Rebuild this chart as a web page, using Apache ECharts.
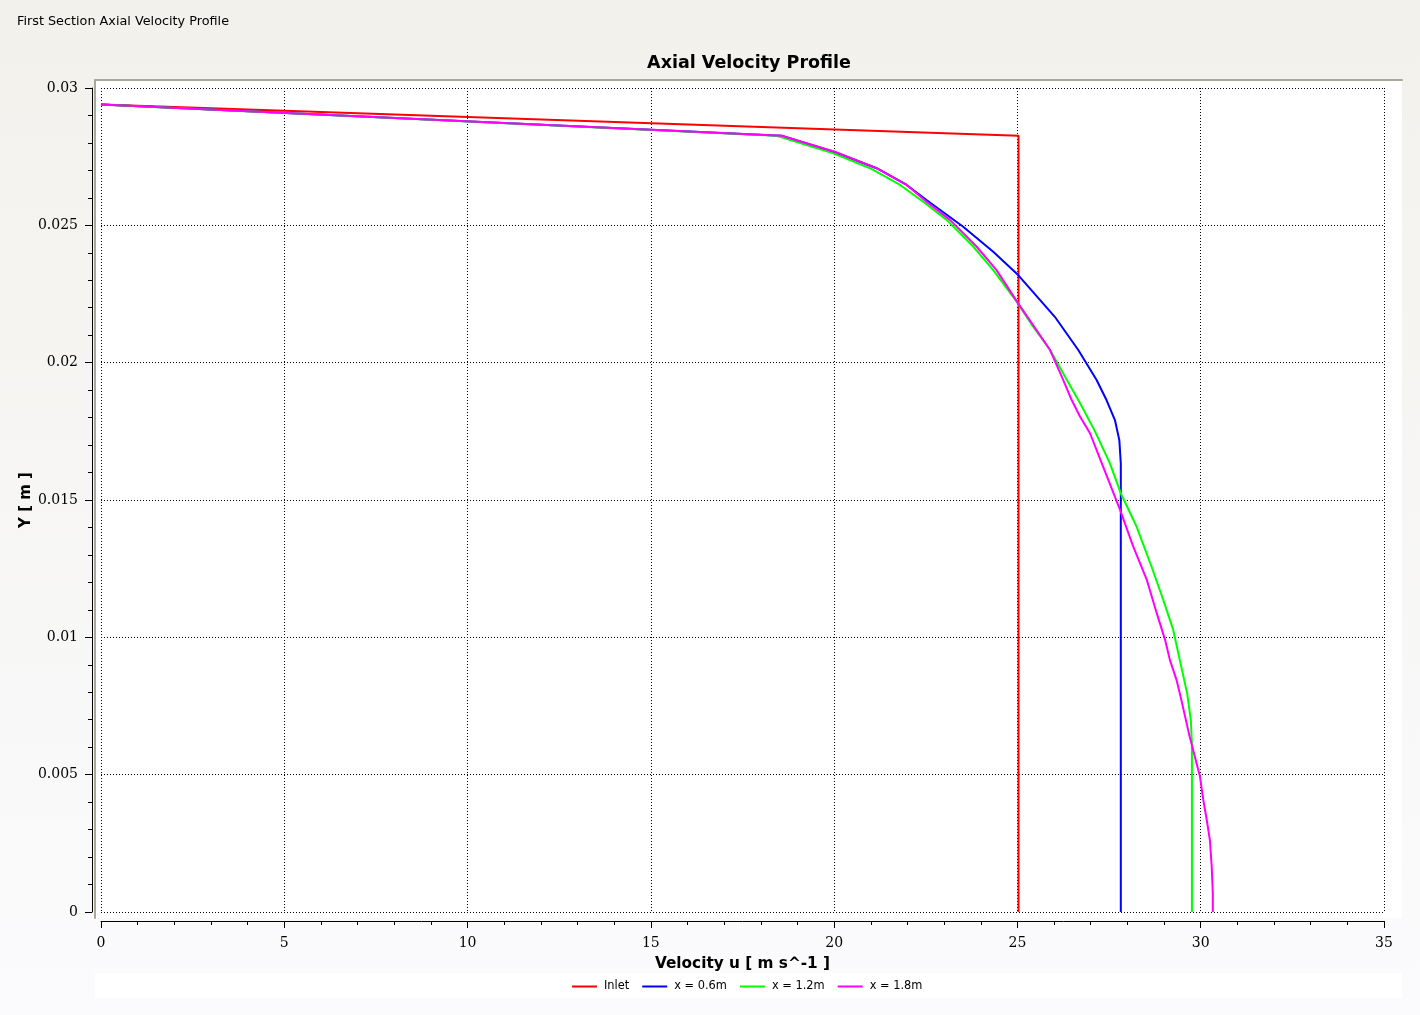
<!DOCTYPE html>
<html>
<head>
<meta charset="utf-8">
<script src="https://cdn.jsdelivr.net/npm/echarts@6/dist/echarts.min.js"></script>
<style>html,body{margin:0;padding:0;}#c{width:1420px;height:1015px;}</style>
</head>
<body>
<div id="c"></div>
<script>
// Series names
var seriesNames = ['Inlet', 'x = 0.6m', 'x = 1.2m', 'x = 1.8m'];
var seriesColors = ['#ff0000', '#0000ff', '#00ff00', '#ff00ff'];

// [velocity u (m/s), Y (m)]
var inlet = [[0, 0.0294], [25.03, 0.02826], [25.03, 0.02], [25.03, 0.01], [25.03, 0]];
var x06 = [[0, 0.0294], [18.57, 0.02826], [20.02, 0.02766], [21.16, 0.02708], [21.98, 0.02647], [22.52, 0.02592],
  [23.52, 0.02495], [24.34, 0.02404], [25.02, 0.02319], [25.62, 0.02228], [26.02, 0.02167], [26.66, 0.02046],
  [27.16, 0.01937], [27.43, 0.01864], [27.66, 0.01791], [27.78, 0.01718], [27.82, 0.01634], [27.82, 0.012],
  [27.82, 0.008], [27.82, 0.004], [27.82, 0]];
var x12 = [[0, 0.0294], [18.43, 0.02826], [19.98, 0.02762], [20.98, 0.02708], [21.80, 0.02647], [22.43, 0.02586],
  [23.07, 0.02520], [23.80, 0.02422], [24.34, 0.02337], [24.98, 0.02222], [25.43, 0.02131], [25.89, 0.02046],
  [26.30, 0.01949], [26.71, 0.01852], [27.12, 0.01749], [27.52, 0.01634], [27.84, 0.01518], [28.05, 0.01460],
  [28.25, 0.01403], [28.66, 0.01257], [28.98, 0.01136], [29.25, 0.01027], [29.43, 0.00917], [29.63, 0.00796],
  [29.73, 0.00699], [29.76, 0.00614], [29.76, 0.004], [29.76, 0.002], [29.76, 0]];
var x18 = [[0, 0.0294], [18.57, 0.02826], [20.02, 0.02768], [21.16, 0.02708], [21.98, 0.02647], [22.52, 0.02586],
  [23.16, 0.02520], [23.89, 0.02422], [24.43, 0.02337], [25.02, 0.02216], [25.52, 0.02119], [25.89, 0.02046],
  [26.21, 0.01949], [26.48, 0.01864], [26.71, 0.01803], [26.98, 0.01743], [27.34, 0.01621], [27.80, 0.01464],
  [28.16, 0.01330], [28.53, 0.01209], [28.80, 0.01088], [29.03, 0.00990], [29.16, 0.00917], [29.34, 0.00845],
  [29.43, 0.00796], [29.70, 0.00638], [29.98, 0.00493], [30.07, 0.00408], [30.18, 0.00323], [30.25, 0.00262],
  [30.30, 0.00165], [30.33, 0.00068], [30.33, 0]];
var seriesData = [inlet, x06, x12, x18];

// Axis settings
var xMin = 0, xMax = 35, xStep = 5;
var yMin = 0, yMax = 0.03, yStep = 0.005;

var chart = echarts.init(document.getElementById('c'));
var dotted = { color: '#000', width: 1, type: [1, 2] };
var tickFont = { fontFamily: 'DejaVu Serif', fontSize: 14, color: '#000' };

chart.setOption({
  animation: false,
  backgroundColor: {
    type: 'linear', x: 0, y: 0, x2: 0, y2: 1,
    colorStops: [{ offset: 0, color: '#f2f1ec' }, { offset: 1, color: '#fbfbfd' }]
  },
  graphic: [{
    type: 'rect', z: -1, silent: true,
    shape: { x: 95, y: 973, width: 1307, height: 25 },
    style: { fill: '#ffffff' }
  }],
  title: [{
    text: 'First Section Axial Velocity Profile',
    left: 17, top: 15, padding: 0,
    textStyle: { fontFamily: 'DejaVu Sans', fontSize: 12.8, fontWeight: 'normal', color: '#000' }
  }, {
    text: 'Axial Velocity Profile',
    left: 749, top: 54, padding: 0, textAlign: 'center',
    textStyle: { fontFamily: 'DejaVu Sans', fontSize: 17.5, fontWeight: 'bold', color: '#000' }
  }],
  legend: {
    data: seriesNames,
    left: 572, top: 981, padding: 0,
    icon: 'rect', itemWidth: 25, itemHeight: 2, itemGap: 13,
    textStyle: { fontFamily: 'DejaVu Sans', fontSize: 11.4, color: '#000', padding: [0, 0, 0, 2] }
  },
  grid: [
    { left: 95, top: 80, right: 18, bottom: 97, show: true, backgroundColor: '#ffffff', borderWidth: 0, containLabel: false },
    { left: 101, top: 88, right: 36, bottom: 103, containLabel: false }
  ],
  xAxis: [{
    gridIndex: 0, type: 'value', position: 'top', min: 0, max: 1,
    axisLine: { show: true, onZero: false, lineStyle: { color: '#aca899', width: 2 } },
    axisTick: { show: false }, axisLabel: { show: false }, splitLine: { show: false }
  }, {
    gridIndex: 1, type: 'value', position: 'bottom', offset: 9,
    min: xMin, max: xMax, interval: xStep,
    name: 'Velocity u [ m s^-1 ]', nameLocation: 'middle', nameGap: 36, nameMoveOverlap: false,
    nameTextStyle: { fontFamily: 'DejaVu Sans', fontSize: 15.3, fontWeight: 'bold', color: '#000' },
    axisLine: { show: true, onZero: false, lineStyle: { color: '#000', width: 1 } },
    axisTick: { show: true, length: 7, lineStyle: { color: '#000' } },
    minorTick: { show: true, splitNumber: 5, length: 4, lineStyle: { color: '#000' } },
    axisLabel: Object.assign({ margin: 15 }, tickFont),
    splitLine: { show: true, lineStyle: dotted }
  }],
  yAxis: [{
    gridIndex: 0, type: 'value', position: 'left', min: 0, max: 1,
    axisLine: { show: true, onZero: false, lineStyle: { color: '#aca899', width: 2 } },
    axisTick: { show: false }, axisLabel: { show: false }, splitLine: { show: false }
  }, {
    gridIndex: 1, type: 'value', position: 'left', offset: 9,
    min: yMin, max: yMax, interval: yStep,
    name: 'Y [ m ]', nameLocation: 'middle', nameGap: 58, nameRotate: 90, nameMoveOverlap: false,
    nameTextStyle: { fontFamily: 'DejaVu Sans', fontSize: 15, fontWeight: 'bold', color: '#000' },
    axisLine: { show: true, onZero: false, lineStyle: { color: '#000', width: 1 } },
    axisTick: { show: true, length: 7, lineStyle: { color: '#000' } },
    minorTick: { show: true, splitNumber: 5, length: 4, lineStyle: { color: '#000' } },
    axisLabel: Object.assign({ margin: 14 }, tickFont),
    splitLine: { show: true, lineStyle: dotted }
  }],
  series: seriesNames.map(function (name, i) {
    return {
      name: name, type: 'line', xAxisIndex: 1, yAxisIndex: 1,
      data: seriesData[i], symbol: 'none', smooth: false, z: 3 + i,
      lineStyle: { color: seriesColors[i], width: 2 },
      itemStyle: { color: seriesColors[i] },
      emphasis: { disabled: true }
    };
  })
});
</script>
</body>
</html>
